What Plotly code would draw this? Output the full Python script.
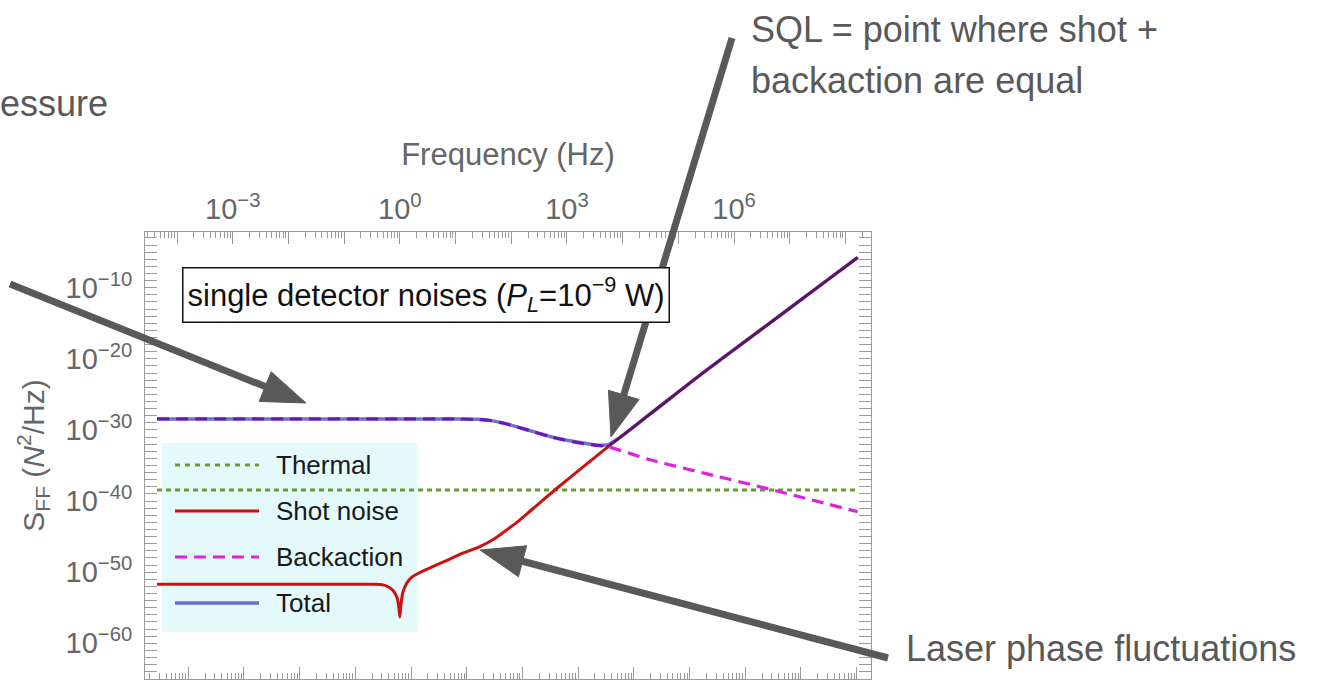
import math
import plotly.graph_objects as go

# ---------------- data ----------------
# frequency in Hz, S_FF in N^2/Hz
thermal_freq = [4.37e-05, 1.66e+08]
thermal_sff = [3.55e-39, 3.55e-39]

shot_freq = [4.37e-05, 1.0e-03, 1.0e-02, 0.1, 0.316, 0.501, 0.661, 0.794, 0.891, 0.955,
             1.0, 1.047, 1.122, 1.318, 1.585, 1.995, 2.818, 3.98, 7.94, 13.8,
             27.5, 50.1, 72.4, 126.0, 219.0, 380.0, 661.0, 1950.0, 5500.0, 3.16e+04,
             2.45e+05, 3.16e+06, 3.16e+07, 1.66e+08]
shot_sff = [2.0e-52, 2.0e-52, 2.0e-52, 2.0e-52, 2.04e-52, 1.66e-52, 6.3e-53, 1.58e-53, 2.5e-54, 1.58e-55,
            5.0e-57, 2.5e-55, 1.0e-53, 2.5e-52, 1.58e-51, 5.0e-51, 2.0e-50, 6.3e-50, 7.1e-49, 5.0e-48,
            4.0e-47, 5.0e-46, 4.0e-45, 1.0e-43, 4.0e-42, 1.58e-40, 6.3e-39, 6.3e-36, 4.4e-33, 1.9e-28,
            5.2e-23, 1.58e-16, 1.1e-10, 1.78e-06]

back_freq = [4.37e-05, 1.0e-02, 1.0, 10.0, 25.1, 41.7, 63.1, 95.5, 158.0, 288.0,
             501.0, 871.0, 1995.0, 5500.0, 3.16e+04, 3.16e+05, 3.16e+06, 3.16e+07, 1.66e+08]
back_sff = [3.55e-29, 3.55e-29, 3.55e-29, 3.55e-29, 3.0e-29, 2.1e-29, 1.12e-29, 5.0e-30, 1.58e-30, 4.0e-31,
            1.12e-31, 4.0e-32, 1.12e-32, 4.0e-33, 6.3e-35, 7.1e-37, 8.9e-39, 8.9e-41, 3.16e-42]

total_freq = [4.37e-05, 1.0e-02, 1.0, 10.0, 25.1, 41.7, 63.1, 95.5, 158.0, 288.0,
              501.0, 871.0, 1995.0, 3548.0, 5500.0, 8913.0, 3.16e+04, 2.45e+05, 3.16e+06, 3.16e+07,
              1.66e+08]
total_sff = [3.55e-29, 3.55e-29, 3.55e-29, 3.55e-29, 3.16e-29, 2.2e-29, 1.17e-29, 5.2e-30, 1.66e-30, 4.2e-31,
             1.2e-31, 4.4e-32, 1.41e-32, 7.1e-33, 8.7e-33, 8.9e-32, 1.9e-28, 5.2e-23, 1.58e-16, 1.1e-10,
             1.78e-06]

legend_labels = ["Thermal", "Shot noise", "Backaction", "Total"]
x_label_exponents = [-3, 0, 3, 6]
y_label_exponents = [-60, -50, -40, -30, -20, -10]

# ---------------- styling ----------------
GREEN = "#6A9A2E"
RED = "#CC1111"
MAGENTA = "#DD22DD"
TOTAL = "rgba(20,20,160,0.6)"
GRAY_TXT = "#666666"
AX = "#9A9A9A"
ARROW = "#595959"
FONT = "Liberation Sans, Arial, sans-serif"

W, H = 1325, 681
L_PX, R_PX, T_PX, B_PX = 145, 871, 232, 679
X_RANGE = [-4.575, 8.459]
Y_RANGE = [-65.02, -2.168]


def px(x):
    return (x - L_PX) / (R_PX - L_PX)


def py(y):
    return (B_PX - y) / (B_PX - T_PX)


def sup(k):
    return "10<sup>%s</sup>" % str(k).replace("-", "−")


fig = go.Figure()
common = dict(mode="lines", line_shape="spline", showlegend=False, hoverinfo="skip")
fig.add_trace(go.Scatter(x=thermal_freq, y=thermal_sff, name=legend_labels[0],
                         line=dict(color=GREEN, width=3, dash="5px,4px"), **common))
fig.add_trace(go.Scatter(x=shot_freq, y=shot_sff, name=legend_labels[1],
                         line=dict(color=RED, width=3, smoothing=0.6), **common))
fig.add_trace(go.Scatter(x=back_freq, y=back_sff, name=legend_labels[2],
                         line=dict(color=MAGENTA, width=3.2, dash="12px,7px", smoothing=0.8), **common))
fig.add_trace(go.Scatter(x=total_freq, y=total_sff, name=legend_labels[3],
                         line=dict(color=TOTAL, width=3.5, smoothing=0.8), **common))
# empty traces so that the extra tick-only axes exist
fig.add_trace(go.Scatter(x=[], y=[], xaxis="x2", yaxis="y", showlegend=False, hoverinfo="skip"))
fig.add_trace(go.Scatter(x=[], y=[], xaxis="x3", yaxis="y", showlegend=False, hoverinfo="skip"))

# tick positions (axis furniture)
x_major_lab = [10.0 ** k for k in x_label_exponents]
x_text = [sup(k) for k in x_label_exponents]
x_major_unlab = [10.0 ** k for k in range(-4, 9) if k not in x_label_exponents]
x_minor = [m * 10.0 ** k for k in range(-5, 9) for m in range(2, 10)]
two_pi = 2 * math.pi
xb_major = [10.0 ** k / two_pi for k in range(-4, 10)]
xb_minor = [m * 10.0 ** k / two_pi for k in range(-5, 10) for m in range(2, 10)]
y_major = [10.0 ** k for k in y_label_exponents]
y_text = [sup(k) for k in y_label_exponents]
y_minor = [10.0 ** k for k in range(-66, -1) if k % 10 != 0]

axis_common = dict(type="log", showgrid=False, zeroline=False, showline=True, linecolor=AX, linewidth=1,
                   ticks="inside", tickcolor=AX, tickwidth=1, ticklen=12)
minor_common = dict(tickmode="array", ticks="inside", ticklen=6, tickcolor=AX, showgrid=False)

fig.update_layout(
    width=W, height=H,
    margin=dict(l=L_PX, r=W - R_PX, t=T_PX, b=H - B_PX, pad=0),
    paper_bgcolor="white", plot_bgcolor="white",
    showlegend=False,
    font=dict(family=FONT, color=GRAY_TXT),
    xaxis=dict(**axis_common, side="top", range=X_RANGE, tickmode="array", tickvals=x_major_lab, ticktext=x_text,
               tickfont=dict(size=29, color=GRAY_TXT),
               minor=dict(**minor_common, tickvals=x_minor),
               title=dict(text="Frequency (Hz)", font=dict(size=31, color=GRAY_TXT), standoff=14)),
    xaxis3=dict(**axis_common, side="top", overlaying="x", anchor="y", range=X_RANGE, tickmode="array",
                tickvals=x_major_unlab, showticklabels=False),
    xaxis2=dict(**axis_common, side="bottom", overlaying="x", anchor="y", range=X_RANGE, tickmode="array",
                tickvals=xb_major, showticklabels=False,
                minor=dict(**minor_common, tickvals=xb_minor)),
    yaxis=dict(**axis_common, range=Y_RANGE, mirror="allticks", tickmode="array", tickvals=y_major, ticktext=y_text,
               tickfont=dict(size=29, color=GRAY_TXT), ticklabelstandoff=6,
               minor=dict(**minor_common, tickvals=y_minor),
               title=dict(text="S<sub>FF</sub> (<i>N</i><sup>2</sup>/Hz)", font=dict(size=30, color=GRAY_TXT),
                          standoff=12)),
)

shapes = []
annotations = []

# ---- manual legend ----
shapes.append(dict(type="rect", xref="paper", yref="paper", x0=px(162), x1=px(417), y0=py(632), y1=py(443),
                   fillcolor="#E4F9FB", line=dict(width=0), layer="below"))
legend_styles = [dict(color=GREEN, width=3, dash="5px,5px"), dict(color=RED, width=3),
                 dict(color=MAGENTA, width=3.2, dash="12px,7px"), dict(color=TOTAL, width=3.5)]
legend_y = [465, 511, 557, 603]
for lab, sty, yy in zip(legend_labels, legend_styles, legend_y):
    shapes.append(dict(type="line", xref="paper", yref="paper", x0=px(175), x1=px(259), y0=py(yy), y1=py(yy),
                       line=sty))
    annotations.append(dict(xref="paper", yref="paper", x=px(274), y=py(yy), xanchor="left", yanchor="middle",
                            text=lab, showarrow=False, font=dict(size=26, color="#1A1A1A", family=FONT)))

# ---- boxed title inside the frame ----
annotations.append(dict(xref="paper", yref="paper", x=px(182), y=py(267), xanchor="left", yanchor="top",
                        text="single detector noises (<i>P</i><sub><i>L</i></sub>=10<sup>−9</sup> W)",
                        showarrow=False, font=dict(size=31, color="#111111", family=FONT),
                        bgcolor="white", bordercolor="#111111", borderwidth=1.5, borderpad=4))

# ---- slide annotations with arrows ----
ANN_FONT = dict(size=36, color=ARROW, family=FONT)
annotations.append(dict(xref="paper", yref="paper", x=px(-2), y=py(104), xanchor="left", yanchor="middle",
                        text="essure", showarrow=False, font=ANN_FONT))
annotations.append(dict(xref="paper", yref="paper", x=px(749), y=py(29), xanchor="left", yanchor="middle",
                        text="SQL = point where shot +", showarrow=False, font=ANN_FONT))
annotations.append(dict(xref="paper", yref="paper", x=px(749), y=py(80), xanchor="left", yanchor="middle",
                        text="backaction are equal", showarrow=False, font=ANN_FONT))
annotations.append(dict(xref="paper", yref="paper", x=px(904), y=py(648), xanchor="left", yanchor="middle",
                        text="Laser phase fluctuations", showarrow=False, font=ANN_FONT))


def arrow(x0, y0, x1, y1, head_len=44, head_half=16):
    dx, dy = x1 - x0, y1 - y0
    n = math.hypot(dx, dy)
    ux, uy = dx / n, dy / n
    bx, by = x1 - ux * (head_len - 2), y1 - uy * (head_len - 2)
    shapes.append(dict(type="line", xref="paper", yref="paper", x0=px(x0), y0=py(y0), x1=px(bx), y1=py(by),
                       line=dict(color=ARROW, width=7)))
    bx, by = x1 - ux * head_len, y1 - uy * head_len
    nx, ny = -uy, ux
    pts = [(x1, y1), (bx + nx * head_half, by + ny * head_half), (bx - nx * head_half, by - ny * head_half)]
    path = "M %.5f %.5f L %.5f %.5f L %.5f %.5f Z" % tuple(v for p in pts for v in (px(p[0]), py(p[1])))
    shapes.append(dict(type="path", xref="paper", yref="paper", path=path, fillcolor=ARROW,
                       line=dict(color=ARROW, width=1)))


arrow(10, 284, 306, 403)
arrow(732, 38, 611, 437)
arrow(888, 658, 480, 550)

fig.update_layout(shapes=shapes, annotations=annotations)
fig.write_html("out.html")
